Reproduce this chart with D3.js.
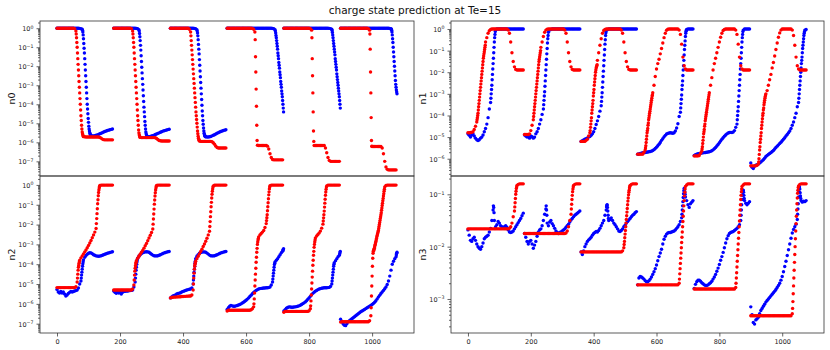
<!DOCTYPE html>
<html>
<head>
<meta charset="utf-8">
<script src="https://cdn.jsdelivr.net/npm/d3@7"></script>
<style>
  body { margin: 0; background: #fff; }
  text { font-family: "DejaVu Sans", sans-serif; }
</style>
</head>
<body>
<div id="chart"></div>
<script>
// each series: 6 segments of 180 samples, read every 4th sample (log10 of value).
// a nested array holds 4 consecutive samples where the curve moves fast.
var xTicks = [0, 200, 400, 600, 800, 1000];

var n0Red = [
 [0,0,0,0,0,0,0,0,0,0,
  0,0,0,0,-0.02,[-0.15,-0.3,-0.5,-0.75],[-1.0,-1.3,-1.6,-1.9],[-2.2,-2.5,-2.8,-3.1],[-3.4,-3.7,-4.0,-4.3],[-4.6,-4.85,-5.1,-5.3],
  [-5.45,-5.55,-5.62,-5.67],-5.7,-5.71,-5.72,-5.72,-5.72,-5.72,-5.72,-5.72,-5.72,
  -5.72,-5.72,-5.72,-5.72,-5.74,-5.78,-5.83,-5.86,-5.87,-5.87,
  -5.87,-5.87,-5.87,-5.87,-5.87],
 [0,0,0,0,0,0,0,0,0,0,
  0,0,0,0,-0.02,[-0.15,-0.3,-0.5,-0.75],[-1.0,-1.3,-1.6,-1.9],[-2.2,-2.5,-2.8,-3.1],[-3.4,-3.7,-4.0,-4.3],[-4.6,-4.85,-5.1,-5.35],
  [-5.5,-5.6,-5.67,-5.72],-5.74,-5.75,-5.75,-5.75,-5.75,-5.75,-5.75,-5.75,-5.75,
  -5.75,-5.75,-5.75,-5.76,-5.8,-5.85,-5.9,-5.92,-5.93,-5.93,
  -5.93,-5.93,-5.93,-5.93,-5.93],
 [0,0,0,0,0,0,0,0,0,0,
  0,0,0,0,0,-0.05,[-0.2,-0.4,-0.65,-0.9],[-1.15,-1.4,-1.65,-1.9],[-2.15,-2.4,-2.65,-2.9],[-3.15,-3.4,-3.65,-3.9],
  [-4.15,-4.4,-4.6,-4.8],[-5.0,-5.2,-5.4,-5.55],[-5.68,-5.78,-5.85,-5.9],-5.93,-5.95,-5.95,-5.95,-5.95,-5.95,-5.95,
  -5.95,-5.95,-5.95,-5.97,-6.02,-6.1,-6.2,-6.27,-6.3,-6.3,
  -6.3,-6.3,-6.3,-6.3,-6.3],
 [0,0,0,0,0,0,0,0,0,0,
  0,0,0,0,0,0,0,0,0,0,
  -0.01,-0.05,[-0.2,-0.6,-1.5,-2.3],[-3.2,-4.1,-5.1,-5.9],-6.15,-6.17,-6.17,-6.17,-6.17,-6.17,
  -6.17,-6.17,-6.2,-6.35,-6.6,-6.8,-6.9,-6.92,-6.92,-6.92,
  -6.92,-6.92,-6.92,-6.92,-6.92],
 [0,0,0,0,0,0,0,0,0,0,
  0,0,0,0,0,0,0,0,0,0,
  0,-0.02,[-0.1,-0.5,-1.6,-2.5],[-3.4,-4.4,-5.4,-5.95],-6.17,-6.17,-6.17,-6.17,-6.17,-6.17,
  -6.17,-6.17,-6.17,-6.3,-6.55,-6.8,-6.95,-7.0,-7.0,-7.0,
  -7.0,-7.0,-7.0,-7.0,-7.0],
 [0,0,0,0,0,0,0,0,0,0,
  0,0,0,0,0,0,0,0,0,0,
  0,0,-0.02,[-0.1,-0.3,-1.1,-2.3],[-3.4,-4.7,-5.9,-6.2],-6.22,-6.22,-6.22,-6.22,-6.22,
  -6.22,-6.22,-6.22,-6.3,-6.6,-7.0,-7.3,-7.42,-7.45,-7.45,
  -7.45,-7.45,-7.45,-7.45,-7.45]
];

var n0Blue = [
 [0,0,0,0,0,0,0,0,0,0,
  0,0,0,0,0,0,0,0,-0.01,-0.02,
  [-0.05,-0.1,-0.2,-0.35],[-0.55,-0.8,-1.05,-1.3],[-1.6,-1.9,-2.2,-2.5],[-2.8,-3.1,-3.4,-3.7],[-4.0,-4.25,-4.5,-4.75],[-4.95,-5.15,-5.3,-5.4],[-5.5,-5.55,-5.6,-5.63],-5.65,-5.66,-5.66,
  -5.65,-5.63,-5.61,-5.58,-5.55,-5.52,-5.49,-5.46,-5.43,-5.4,
  -5.38,-5.36,-5.34,-5.32,-5.3],
 [0,0,0,0,0,0,0,0,0,0,
  0,0,0,0,0,0,0,0,-0.01,-0.03,
  [-0.08,-0.15,-0.28,-0.45],[-0.65,-0.9,-1.15,-1.45],[-1.75,-2.05,-2.35,-2.65],[-2.95,-3.25,-3.55,-3.85],[-4.15,-4.4,-4.65,-4.9],[-5.1,-5.3,-5.45,-5.55],[-5.62,-5.66,-5.68,-5.7],-5.7,-5.7,-5.69,
  -5.67,-5.65,-5.62,-5.59,-5.56,-5.53,-5.5,-5.47,-5.44,-5.41,
  -5.39,-5.37,-5.35,-5.33,-5.31],
 [0,0,0,0,0,0,0,0,0,0,
  0,0,0,0,0,0,0,0,0,-0.01,
  -0.03,[-0.08,-0.15,-0.25,-0.4],[-0.6,-0.85,-1.1,-1.35],[-1.65,-1.95,-2.25,-2.55],[-2.85,-3.15,-3.45,-3.75],[-4.05,-4.35,-4.6,-4.85],[-5.05,-5.25,-5.4,-5.52],[-5.6,-5.65,-5.68,-5.7],-5.71,-5.72,
  -5.72,-5.71,-5.69,-5.66,-5.63,-5.6,-5.56,-5.52,-5.49,-5.46,
  -5.43,-5.4,-5.38,-5.36,-5.34],
 [0,0,0,0,0,0,0,0,0,0,
  0,0,0,0,0,0,0,0,0,0,
  0,0,0,0,0,0,0,0,0,0,
  0,0,0,0,0,0,-0.01,-0.03,[-0.08,-0.15,-0.25,-0.38],[-0.5,-0.65,-0.8,-0.95],
  [-1.1,-1.3,-1.45,-1.6],[-1.8,-1.95,-2.1,-2.3],[-2.45,-2.6,-2.8,-2.95],[-3.1,-3.3,-3.45,-3.6],[-3.8,-4.0,-4.2,-4.4]],
 [0,0,0,0,0,0,0,0,0,0,
  0,0,0,0,0,0,0,0,0,0,
  0,0,0,0,0,0,0,0,0,0,
  0,0,0,0,0,0,-0.01,-0.02,[-0.05,-0.12,-0.22,-0.35],[-0.5,-0.65,-0.8,-0.95],
  [-1.1,-1.25,-1.4,-1.6],[-1.75,-1.9,-2.05,-2.2],[-2.4,-2.55,-2.7,-2.85],[-3.0,-3.15,-3.3,-3.45],[-3.6,-3.8,-4.0,-4.2]],
 [0,0,0,0,0,0,0,0,0,0,
  0,0,0,0,0,0,0,0,0,0,
  0,0,0,0,0,0,0,0,0,0,
  0,0,0,0,0,0,0,0,0,-0.01,
  [-0.02,-0.05,-0.1,-0.2],[-0.35,-0.55,-0.75,-1.0],[-1.25,-1.5,-1.75,-2.0],[-2.25,-2.5,-2.75,-2.95],[-3.1,-3.25,-3.35,-3.45]]
];

var n1Red = [
 [-4.8,-4.8,-4.79,-4.78,-4.75,-4.65,-4.5,[-4.3,-4.2,-4.1,-4.0],[-3.9,-3.75,-3.6,-3.45],[-3.3,-3.15,-3.0,-2.85],
  [-2.7,-2.55,-2.4,-2.25],[-2.1,-1.95,-1.8,-1.65],[-1.5,-1.35,-1.25,-1.15],[-1.05,-0.95,-0.85,-0.75],-0.6,-0.4,-0.2,-0.08,-0.02,0,
  0,0,0,0,0,0,0,0,0,0,
  0,0,-0.05,-0.2,-0.6,-1.1,-1.5,-1.75,-1.87,-1.9,
  -1.9,-1.9,-1.9,-1.9,-1.9],
 [-4.88,-4.88,-4.88,-4.88,-4.85,-4.7,-4.45,[-4.2,-4.05,-3.9,-3.75],[-3.6,-3.45,-3.3,-3.15],[-3.0,-2.85,-2.7,-2.55],
  [-2.4,-2.25,-2.1,-1.95],[-1.8,-1.65,-1.5,-1.4],[-1.3,-1.2,-1.1,-1.0],-0.85,-0.6,-0.35,-0.15,-0.05,-0.01,0,
  0,0,0,0,0,0,0,0,0,0,
  0,0,-0.05,-0.2,-0.6,-1.1,-1.5,-1.75,-1.87,-1.9,
  -1.9,-1.9,-1.9,-1.9,-1.9],
 [-5.2,-5.2,-5.2,-5.2,-5.15,-5.1,-4.95,[-4.8,-4.7,-4.55,-4.4],[-4.25,-4.1,-3.9,-3.75],[-3.6,-3.45,-3.3,-3.1],
  [-2.95,-2.8,-2.6,-2.45],[-2.3,-2.15,-2.0,-1.9],[-1.8,-1.75,-1.7,-1.65],-1.45,-1.1,-0.75,-0.45,-0.2,-0.07,-0.02,
  0,0,0,0,0,0,0,0,0,0,
  0,0,-0.05,-0.2,-0.6,-1.1,-1.5,-1.75,-1.87,-1.9,
  -1.9,-1.9,-1.9,-1.9,-1.9],
 [-5.79,-5.79,-5.79,-5.79,-5.79,-5.7,[-5.6,-5.5,-5.4,-5.25],[-5.1,-4.95,-4.8,-4.7],[-4.6,-4.45,-4.35,-4.2],[-4.1,-4.0,-3.9,-3.8],
  [-3.7,-3.6,-3.5,-3.4],[-3.3,-3.2,-3.1,-3.05],-2.95,-2.6,-2.2,-1.85,-1.6,-1.4,-1.15,-0.9,
  -0.65,-0.4,-0.2,-0.06,-0.01,0,0,0,0,0,
  0,0,0,-0.05,-0.25,-0.7,-1.3,-1.7,-1.85,-1.9,
  -1.9,-1.9,-1.9,-1.9,-1.9],
 [-5.87,-5.87,-5.87,-5.87,-5.85,-5.75,[-5.65,-5.55,-5.45,-5.3],[-5.15,-5.0,-4.85,-4.75],[-4.65,-4.5,-4.4,-4.25],[-4.15,-4.05,-3.95,-3.85],
  [-3.75,-3.65,-3.55,-3.45],[-3.35,-3.25,-3.15,-3.05],-2.95,-2.6,-2.25,-1.9,-1.6,-1.35,-1.1,-0.85,
  -0.6,-0.38,-0.2,-0.07,-0.02,0,0,0,0,0,
  0,0,0,-0.05,-0.25,-0.7,-1.3,-1.7,-1.85,-1.9,
  -1.9,-1.9,-1.9,-1.9,-1.9],
 [-6.33,-6.33,-6.33,-6.33,-6.33,-6.3,[-6.25,-6.15,-6.0,-5.8],[-5.6,-5.45,-5.25,-5.1],[-4.95,-4.8,-4.6,-4.45],[-4.3,-4.15,-4.0,-3.9],
  [-3.75,-3.65,-3.5,-3.4],[-3.3,-3.2,-3.12,-3.05],-3.0,-2.85,-2.6,-2.35,-2.1,-1.8,-1.55,-1.25,
  -0.95,-0.65,-0.38,-0.18,-0.05,0,0,0,0,0,
  0,0,0,-0.05,-0.3,-0.75,-1.3,-1.7,-1.85,-1.9,
  -1.9,-1.9,-1.9,-1.9,-1.9]
];

var n1Blue = [
 [-4.85,-4.92,-5.0,-4.9,-4.85,-4.95,-5.05,-5.12,-5.16,-5.12,
  -5.05,-5.0,-4.9,-4.75,-4.6,-4.4,-4.1,-3.7,[-3.4,-3.2,-3.0,-2.8],[-2.6,-2.35,-2.1,-1.85],
  [-1.6,-1.35,-1.1,-0.85],[-0.6,-0.4,-0.25,-0.12],-0.05,0,0,0,0,0,0,0,
  0,0,0,0,0,0,0,0,0,0,
  0,0,0,0,0],
 [-4.9,-4.95,-5.0,-4.97,-5.05,-4.95,-4.98,-5.05,-5.0,-4.85,
  -4.75,-4.6,-4.4,-4.2,-3.95,[-3.7,-3.5,-3.3,-3.1],[-2.9,-2.65,-2.4,-2.15],[-1.9,-1.65,-1.4,-1.15],[-0.9,-0.65,-0.45,-0.3],-0.15,
  -0.05,-0.02,0,0,0,0,0,0,0,0,
  0,0,0,0,0,0,0,0,0,0,
  0,0,0,0,0],
 [-5.2,-5.17,-5.13,-5.1,-5.07,-5.04,-5.0,-4.97,-4.92,-4.85,
  -4.75,-4.6,-4.42,-4.25,-4.05,-3.8,[-3.55,-3.35,-3.15,-2.95],[-2.7,-2.45,-2.2,-1.95],[-1.7,-1.45,-1.2,-0.95],[-0.7,-0.5,-0.3,-0.17],
  -0.08,-0.03,0,0,0,0,0,0,0,0,
  0,0,0,0,0,0,0,0,0,0,
  0,0,0,0,0],
 [-5.79,-5.78,-5.76,-5.74,-5.72,-5.72,-5.71,-5.7,-5.69,-5.68,
  -5.67,-5.65,-5.62,-5.58,-5.53,-5.47,-5.4,-5.33,-5.25,-5.15,
  -5.07,-4.99,-4.92,-4.86,-4.83,-4.81,-4.8,-4.81,-4.82,-4.8,
  -4.72,-4.58,-4.38,-4.05,[-3.85,-3.65,-3.45,-3.25],[-3.05,-2.8,-2.6,-2.4],[-2.15,-1.9,-1.7,-1.45],[-1.2,-0.95,-0.75,-0.55],[-0.35,-0.2,-0.1,-0.05],-0.02,
  0,0,0,0,0],
 [-5.85,-5.82,-5.79,-5.77,-5.76,-5.75,-5.74,-5.73,-5.72,-5.71,
  -5.7,-5.69,-5.68,-5.66,-5.63,-5.59,-5.54,-5.48,-5.41,-5.34,
  -5.26,-5.18,-5.1,-5.03,-4.96,-4.9,-4.85,-4.81,-4.79,-4.78,
  -4.79,-4.77,-4.7,-4.55,[-4.4,-4.2,-4.0,-3.8],[-3.6,-3.35,-3.1,-2.85],[-2.6,-2.35,-2.1,-1.85],[-1.6,-1.35,-1.1,-0.85],[-0.6,-0.4,-0.25,-0.12],-0.05,
  0,0,0,0,0],
 [-6.2,-6.4,-6.45,-6.35,-6.3,-6.28,-6.25,-6.2,-6.15,-6.1,
  -6.05,-5.98,-5.9,-5.85,-5.8,-5.76,-5.72,-5.67,-5.62,-5.55,
  -5.48,-5.42,-5.36,-5.3,-5.24,-5.17,-5.1,-5.03,-4.95,-4.88,
  -4.8,-4.72,-4.6,-4.45,-4.3,-4.1,-3.9,-3.6,[-3.4,-3.2,-3.0,-2.8],[-2.6,-2.4,-2.2,-2.0],
  [-1.8,-1.6,-1.45,-1.3],[-1.1,-0.9,-0.75,-0.6],[-0.45,-0.3,-0.2,-0.12],-0.05,-0.02]
];

var n2Red = [
 [-5.18,-5.18,-5.18,-5.18,-5.18,-5.18,-5.18,-5.18,-5.18,-5.18,
  -5.18,-5.18,-5.18,-5.18,-5.18,-5.14,[-4.9,-4.7,-4.5,-4.3],[-4.15,-4.05,-3.95,-3.88],-3.8,-3.68,
  -3.58,-3.48,-3.38,-3.28,-3.17,-3.05,-2.93,-2.8,-2.66,-2.52,
  -2.38,[-2.2,-1.95,-1.7,-1.45],[-1.2,-0.95,-0.75,-0.55],[-0.38,-0.25,-0.15,-0.08],-0.03,-0.01,-0.01,-0.01,-0.01,-0.01,
  -0.01,-0.01,-0.01,-0.01,-0.01],
 [-5.3,-5.3,-5.3,-5.3,-5.3,-5.3,-5.3,-5.3,-5.3,-5.3,
  -5.3,-5.3,-5.3,-5.3,-5.3,-5.25,[-5.05,-4.8,-4.55,-4.35],[-4.2,-4.08,-3.98,-3.9],-3.82,-3.7,
  -3.6,-3.5,-3.4,-3.3,-3.19,-3.07,-2.95,-2.82,-2.68,-2.54,
  -2.4,[-2.22,-1.98,-1.72,-1.47],[-1.22,-0.97,-0.76,-0.56],[-0.39,-0.26,-0.16,-0.08],-0.03,-0.01,-0.01,-0.01,-0.01,-0.01,
  -0.01,-0.01,-0.01,-0.01,-0.01],
 [-5.7,-5.68,-5.67,-5.66,-5.66,-5.65,-5.65,-5.64,-5.64,-5.63,
  -5.63,-5.62,-5.62,-5.61,-5.61,-5.6,-5.6,-5.55,[-5.3,-5.0,-4.7,-4.45],[-4.25,-4.1,-4.0,-3.92],
  -3.85,-3.72,-3.6,-3.48,-3.36,-3.24,-3.11,-2.98,-2.84,-2.69,
  -2.52,[-2.34,-2.1,-1.85,-1.6],[-1.35,-1.1,-0.88,-0.66],[-0.47,-0.32,-0.2,-0.11],-0.05,-0.02,-0.01,-0.01,-0.01,-0.01,
  -0.01,-0.01,-0.01,-0.01,-0.01],
 [-6.36,-6.32,-6.32,-6.32,-6.32,-6.32,-6.32,-6.32,-6.32,-6.32,
  -6.32,-6.32,-6.32,-6.32,-6.32,-6.32,-6.32,-6.32,-6.32,-6.3,
  -6.25,[-6.15,-6.0,-5.75,-5.45],[-5.1,-4.8,-4.5,-4.2],[-3.9,-3.65,-3.4,-3.2],[-3.0,-2.88,-2.78,-2.7],-2.62,-2.52,-2.45,-2.38,-2.3,
  -2.15,[-1.95,-1.8,-1.65,-1.5],[-1.3,-1.1,-0.9,-0.7],[-0.5,-0.35,-0.2,-0.1],-0.04,-0.01,-0.01,-0.01,-0.01,-0.01,
  -0.01,-0.01,-0.01,-0.01,-0.01],
 [-6.42,-6.38,-6.38,-6.38,-6.38,-6.38,-6.38,-6.38,-6.38,-6.38,
  -6.38,-6.38,-6.38,-6.38,-6.38,-6.38,-6.38,-6.38,-6.38,-6.38,
  -6.35,[-6.25,-6.1,-5.85,-5.55],[-5.25,-4.95,-4.65,-4.35],[-4.05,-3.8,-3.55,-3.35],[-3.15,-3.0,-2.88,-2.78],-2.68,-2.58,-2.5,-2.42,-2.33,
  -2.18,[-1.98,-1.82,-1.66,-1.5],[-1.32,-1.12,-0.92,-0.72],[-0.52,-0.36,-0.22,-0.11],-0.05,-0.01,-0.01,-0.01,-0.01,-0.01,
  -0.01,-0.01,-0.01,-0.01,-0.01],
 [-6.92,-6.9,-6.9,-6.9,-6.9,-6.9,-6.9,-6.9,-6.9,-6.9,
  -6.9,-6.9,-6.9,-6.9,-6.9,-6.9,-6.9,-6.9,-6.9,-6.9,
  -6.9,-6.9,-6.9,-6.85,[-6.6,-6.2,-5.6,-5.1],[-4.6,-4.1,-3.7,-3.45],[-3.35,-3.3,-3.25,-3.2],[-3.13,-3.06,-2.99,-2.92],[-2.85,-2.78,-2.7,-2.62],[-2.55,-2.48,-2.42,-2.36],
  [-2.3,-2.2,-2.1,-2.0],[-1.9,-1.8,-1.7,-1.6],[-1.5,-1.4,-1.28,-1.16],[-1.04,-0.92,-0.8,-0.68],[-0.56,-0.44,-0.32,-0.22],-0.1,-0.03,-0.01,-0.01,-0.01,
  -0.01,-0.01,-0.01,-0.01,-0.01]
];

var n2Blue = [
 [-5.27,-5.4,-5.45,-5.38,-5.45,-5.4,-5.5,-5.6,-5.55,-5.48,
  -5.42,-5.38,-5.4,-5.38,-5.35,-5.33,-5.3,-5.2,-5.0,[-4.85,-4.7,-4.55,-4.4],
  [-4.25,-4.1,-3.98,-3.88],-3.78,-3.65,-3.56,-3.5,-3.45,-3.42,-3.43,-3.47,-3.52,
  -3.55,-3.58,-3.59,-3.6,-3.59,-3.57,-3.55,-3.52,-3.5,-3.47,
  -3.45,-3.43,-3.41,-3.39,-3.37],
 [-5.35,-5.42,-5.47,-5.4,-5.45,-5.42,-5.5,-5.42,-5.38,-5.37,
  -5.36,-5.35,-5.34,-5.33,-5.32,-5.3,-5.15,[-4.9,-4.7,-4.5,-4.3],[-4.15,-4.0,-3.88,-3.78],-3.7,
  -3.6,-3.52,-3.46,-3.42,-3.4,-3.38,-3.37,-3.38,-3.4,-3.45,
  -3.5,-3.54,-3.57,-3.58,-3.58,-3.57,-3.55,-3.52,-3.49,-3.46,
  -3.43,-3.41,-3.39,-3.37,-3.36],
 [-5.7,-5.65,-5.6,-5.58,-5.55,-5.5,-5.48,-5.46,-5.44,-5.4,
  -5.37,-5.35,-5.32,-5.3,-5.28,-5.26,-5.25,-5.2,[-5.0,-4.8,-4.6,-4.4],[-4.25,-4.1,-3.95,-3.85],
  -3.72,-3.6,-3.52,-3.45,-3.41,-3.39,-3.38,-3.38,-3.4,-3.44,
  -3.49,-3.54,-3.57,-3.58,-3.58,-3.57,-3.55,-3.52,-3.49,-3.46,
  -3.43,-3.41,-3.39,-3.37,-3.36],
 [-6.28,-6.2,-6.12,-6.08,-6.1,-6.12,-6.12,-6.1,-6.08,-6.06,
  -6.03,-6.0,-5.96,-5.92,-5.87,-5.82,-5.76,-5.7,-5.63,-5.56,
  -5.49,-5.43,-5.37,-5.32,-5.28,-5.25,-5.23,-5.22,-5.21,-5.2,
  -5.2,-5.19,-5.19,-5.18,-5.15,-5.05,[-4.9,-4.75,-4.6,-4.45],[-4.3,-4.15,-4.02,-3.95],-3.88,-3.8,
  -3.72,-3.62,-3.52,-3.42,[-3.35,-3.3,-3.25,-3.22]],
 [-6.36,-6.3,-6.22,-6.18,-6.15,-6.16,-6.17,-6.17,-6.16,-6.15,
  -6.14,-6.12,-6.1,-6.07,-6.03,-5.99,-5.95,-5.9,-5.84,-5.77,
  -5.7,-5.62,-5.54,-5.47,-5.41,-5.36,-5.32,-5.28,-5.25,-5.23,
  -5.21,-5.2,-5.19,-5.19,-5.19,-5.18,-5.17,-5.12,[-5.0,-4.85,-4.7,-4.55],[-4.4,-4.25,-4.1,-4.0],
  -3.92,-3.82,-3.72,-3.62,[-3.55,-3.48,-3.42,-3.35]],
 [-6.78,-6.9,-7.0,-7.08,-7.1,-7.0,-6.9,-6.85,-6.8,-6.75,
  -6.7,-6.65,-6.6,-6.55,-6.5,-6.45,-6.4,-6.36,-6.32,-6.28,
  -6.24,-6.2,-6.16,-6.12,-6.08,-6.03,-5.98,-5.92,-5.84,-5.75,
  -5.66,-5.57,-5.48,-5.4,-5.32,-5.24,-5.15,-5.02,-4.85,-4.6,
  -4.3,-4.0,-3.85,-3.72,[-3.62,-3.52,-3.45,-3.4]]
];

var n3Red = [
 [-1.66,-1.66,-1.66,-1.66,-1.66,-1.66,-1.66,-1.66,-1.66,-1.66,
  -1.66,-1.66,-1.66,-1.66,-1.66,-1.66,-1.66,-1.66,-1.66,-1.66,
  -1.66,-1.66,-1.66,-1.66,-1.66,-1.66,-1.66,-1.66,-1.66,-1.66,
  -1.66,-1.66,-1.66,-1.65,-1.62,-1.55,-1.43,[-1.32,-1.24,-1.16,-1.08],[-1.0,-0.94,-0.89,-0.86],-0.83,
  -0.81,-0.8,-0.8,-0.8,-0.8],
 [-1.75,-1.75,-1.75,-1.75,-1.75,-1.75,-1.75,-1.75,-1.75,-1.75,
  -1.75,-1.75,-1.75,-1.75,-1.75,-1.75,-1.75,-1.75,-1.75,-1.75,
  -1.75,-1.75,-1.75,-1.75,-1.75,-1.75,-1.75,-1.75,-1.75,-1.75,
  -1.75,-1.75,-1.75,-1.74,-1.7,-1.62,-1.5,[-1.38,-1.28,-1.19,-1.1],[-1.02,-0.95,-0.9,-0.86],-0.83,
  -0.81,-0.8,-0.8,-0.8,-0.8],
 [-2.1,-2.1,-2.1,-2.1,-2.1,-2.1,-2.1,-2.1,-2.1,-2.1,
  -2.1,-2.1,-2.1,-2.1,-2.1,-2.1,-2.1,-2.1,-2.1,-2.1,
  -2.1,-2.1,-2.1,-2.1,-2.1,-2.1,-2.1,-2.1,-2.1,-2.1,
  -2.1,-2.1,-2.1,-2.08,[-2.02,-1.96,-1.9,-1.83],[-1.76,-1.69,-1.62,-1.55],[-1.48,-1.41,-1.34,-1.27],[-1.2,-1.13,-1.07,-1.01],[-0.96,-0.92,-0.88,-0.85],-0.83,
  -0.81,-0.8,-0.8,-0.8,-0.8],
 [-2.73,-2.73,-2.73,-2.73,-2.73,-2.73,-2.73,-2.73,-2.73,-2.73,
  -2.73,-2.73,-2.73,-2.73,-2.73,-2.73,-2.73,-2.73,-2.73,-2.73,
  -2.73,-2.73,-2.73,-2.73,-2.73,-2.73,-2.73,-2.73,-2.73,-2.73,
  -2.73,-2.73,-2.73,[-2.7,-2.62,-2.52,-2.42],[-2.32,-2.22,-2.12,-2.02],[-1.92,-1.82,-1.72,-1.62],[-1.52,-1.42,-1.32,-1.22],[-1.12,-1.03,-0.96,-0.9],-0.85,-0.82,
  -0.8,-0.8,-0.8,-0.8,-0.8],
 [-2.81,-2.81,-2.81,-2.81,-2.81,-2.81,-2.81,-2.81,-2.81,-2.81,
  -2.81,-2.81,-2.81,-2.81,-2.81,-2.81,-2.81,-2.81,-2.81,-2.81,
  -2.81,-2.81,-2.81,-2.81,-2.81,-2.81,-2.81,-2.81,-2.81,-2.81,
  -2.81,-2.81,-2.81,[-2.78,-2.7,-2.6,-2.5],[-2.39,-2.28,-2.17,-2.06],[-1.95,-1.84,-1.73,-1.62],[-1.51,-1.4,-1.3,-1.2],[-1.1,-1.02,-0.95,-0.9],-0.85,-0.82,
  -0.8,-0.8,-0.8,-0.8,-0.8],
 [-3.32,-3.32,-3.32,-3.32,-3.32,-3.32,-3.32,-3.32,-3.32,-3.32,
  -3.32,-3.32,-3.32,-3.32,-3.32,-3.32,-3.32,-3.32,-3.32,-3.32,
  -3.32,-3.32,-3.32,-3.32,-3.32,-3.32,-3.32,-3.32,-3.32,-3.32,
  -3.32,-3.32,-3.32,[-3.28,-3.18,-3.05,-2.9],[-2.75,-2.6,-2.45,-2.3],[-2.15,-2.0,-1.85,-1.7],[-1.56,-1.42,-1.3,-1.18],[-1.07,-0.98,-0.92,-0.87],-0.84,-0.81,
  -0.8,-0.8,-0.8,-0.8,-0.8]
];

var n3Blue = [
 [-1.68,-1.78,-1.88,-1.9,-1.85,-1.82,-1.88,-1.95,-2.0,-2.03,
  -2.05,-2.0,-1.93,-1.85,-1.82,-1.8,-1.78,-1.72,-1.65,-1.5,
  [-1.3,-1.22,-1.25,-1.35],-1.5,-1.62,-1.58,-1.52,-1.55,-1.6,-1.62,-1.64,-1.62,
  -1.6,-1.63,-1.68,-1.72,-1.73,-1.72,-1.7,-1.66,-1.62,-1.58,
  -1.54,-1.5,-1.46,-1.41,-1.36],
 [-1.75,-1.82,-1.9,-1.95,-1.9,-1.88,-1.95,-2.03,-1.97,-1.9,
  -1.8,-1.72,-1.68,-1.66,-1.6,-1.5,-1.38,[-1.28,-1.22,-1.3,-1.4],-1.55,-1.6,
  -1.53,-1.5,-1.56,-1.6,-1.65,-1.7,-1.73,-1.75,-1.73,-1.72,
  -1.7,-1.68,-1.66,-1.63,-1.6,-1.57,-1.53,-1.49,-1.46,-1.43,
  -1.4,-1.38,-1.36,-1.34,-1.32],
 [-2.1,-2.15,-2.08,-2.0,-1.95,-1.9,-1.87,-1.85,-1.82,-1.78,
  -1.75,-1.73,-1.71,-1.72,-1.69,-1.65,-1.6,-1.55,-1.5,-1.4,
  [-1.3,-1.24,-1.21,-1.2],[-1.25,-1.32,-1.4,-1.46],-1.5,-1.48,-1.45,-1.5,-1.55,-1.58,-1.62,-1.66,
  -1.7,-1.71,-1.69,-1.66,-1.62,-1.59,-1.55,-1.52,-1.49,-1.46,
  -1.43,-1.4,-1.38,-1.35,-1.33],
 [-2.73,-2.6,-2.57,-2.58,-2.6,-2.62,-2.65,-2.67,-2.67,-2.65,
  -2.62,-2.58,-2.53,-2.48,-2.42,-2.35,-2.27,-2.19,-2.12,-2.05,
  -1.95,-1.86,-1.8,-1.76,-1.74,-1.73,-1.73,-1.72,-1.71,-1.7,
  -1.68,-1.65,-1.62,-1.58,-1.52,[-1.45,-1.38,-1.3,-1.22],[-1.14,-1.06,-0.99,-0.93],[-0.89,-0.9,-0.95,-1.0],-1.05,-1.12,
  -1.2,-1.25,-1.18,-1.15,-1.12],
 [-2.8,-2.72,-2.67,-2.64,-2.64,-2.66,-2.69,-2.71,-2.73,-2.74,
  -2.74,-2.73,-2.71,-2.69,-2.66,-2.62,-2.58,-2.53,-2.47,-2.41,
  -2.34,-2.26,-2.19,-2.11,-2.02,-1.93,-1.85,-1.79,-1.75,-1.73,
  -1.72,-1.71,-1.69,-1.67,-1.65,-1.62,-1.58,[-1.5,-1.4,-1.3,-1.2],[-1.1,-1.02,-0.96,-0.92],[-0.92,-0.96,-1.02,-1.08],
  -1.12,-1.17,-1.2,-1.17,-1.14],
 [-3.15,-3.3,-3.45,-3.48,-3.4,-3.38,-3.35,-3.28,-3.22,-3.18,
  -3.14,-3.1,-3.06,-3.03,-3.0,-2.97,-2.94,-2.91,-2.88,-2.85,
  -2.82,-2.78,-2.74,-2.7,-2.64,-2.57,-2.48,-2.38,-2.28,-2.17,
  -2.06,-1.95,-1.84,-1.74,-1.67,-1.62,-1.57,[-1.48,-1.38,-1.28,-1.18],[-1.05,-0.95,-0.88,-0.86],[-0.9,-0.97,-1.03,-1.08],
  -1.12,-1.15,-1.13,-1.14,-1.12]
];

var SEG_LEN = 180, STEP = 4;

// turn one segment into [x, log10 value] points
function expand(seg, k) {
  var pts = [];
  seg.forEach(function(v, i) {
    var x0 = k * SEG_LEN + i * STEP;
    if (Array.isArray(v)) v.forEach(function(w, j) { pts.push([x0 + j, w]); });
    else pts.push([x0, v]);
  });
  return pts;
}

var width = 830, height = 350;
var svg = d3.select("#chart").append("svg")
    .attr("width", width)
    .attr("height", height);

var cols = [[40, 414], [451, 824]];
var rows = [[21, 176], [176, 333]];

var panels = [
  {label: "n0", red: n0Red, blue: n0Blue, col: 0, row: 0, lo: -7.77, hi: 0.38},
  {label: "n1", red: n1Red, blue: n1Blue, col: 1, row: 0, lo: -6.8, hi: 0.37},
  {label: "n2", red: n2Red, blue: n2Blue, col: 0, row: 1, lo: -7.47, hi: 0.45},
  {label: "n3", red: n3Red, blue: n3Blue, col: 1, row: 1, lo: -3.65, hi: -0.65}
];

panels.forEach(function(p) {
  var xl = cols[p.col][0], xr = cols[p.col][1], yt = rows[p.row][0], yb = rows[p.row][1];
  var x = d3.scaleLinear().domain([-53.95, 1132.95]).range([xl, xr]);
  var y = d3.scaleLog().domain([Math.pow(10, p.lo), Math.pow(10, p.hi)]).range([yb, yt]);
  var g = svg.append("g");

  // points: per segment, prediction (blue) then truth (red)
  for (var k = 0; k < 6; k++) {
    [[p.blue[k], "blue"], [p.red[k], "red"]].forEach(function(s) {
      g.append("g").selectAll("circle")
        .data(expand(s[0], k))
        .enter().append("circle")
        .attr("cx", function(d) { return x(d[0]); })
        .attr("cy", function(d) { return y(Math.pow(10, d[1])); })
        .attr("r", 1.7)
        .attr("fill", s[1]);
    });
  }

  // y ticks
  var majors = d3.range(Math.ceil(p.lo), Math.floor(p.hi) + 1);
  var minors = [];
  d3.range(Math.floor(p.lo), Math.ceil(p.hi)).forEach(function(e) {
    for (var m = 2; m < 10; m++) {
      var v = e + Math.log10(m);
      if (v > p.lo && v < p.hi) minors.push(Math.pow(10, v));
    }
  });
  var ax = g.append("g").attr("transform", "translate(" + xl + ",0)");
  ax.append("g").call(d3.axisLeft(y).tickValues(minors).tickSize(2).tickFormat(""));
  ax.append("g").call(d3.axisLeft(y).tickValues(majors.map(function(e) { return Math.pow(10, e); })).tickSize(3.5).tickFormat(""));
  ax.selectAll(".domain").remove();
  ax.selectAll(".tick line").attr("stroke", "#222").attr("stroke-width", 0.7);

  var lab = ax.append("g").selectAll("text")
    .data(majors)
    .enter().append("text")
    .attr("x", -6.5)
    .attr("y", function(e) { return y(Math.pow(10, e)); })
    .attr("dy", "0.45em")
    .attr("text-anchor", "end")
    .attr("fill", "#222")
    .style("font-size", "6.5px");
  lab.append("tspan").text("10");
  lab.append("tspan")
    .attr("dy", "-0.55em")
    .style("font-size", "4.7px")
    .text(function(e) { return e === 0 ? "0" : "\u2212" + (-e); });

  // x axis on the bottom row
  if (p.row === 1) {
    var xa = g.append("g").attr("transform", "translate(0," + yb + ")")
      .call(d3.axisBottom(x).tickValues(xTicks).tickSize(3.5).tickPadding(2.5).tickFormat(d3.format("d")));
    xa.select(".domain").remove();
    xa.attr("font-family", "DejaVu Sans, sans-serif").attr("font-size", 6.5);
    xa.selectAll(".tick line").attr("stroke", "#222").attr("stroke-width", 0.7);
    xa.selectAll(".tick text").attr("fill", "#222");
  }

  // frame
  g.append("rect")
    .attr("x", xl).attr("y", yt)
    .attr("width", xr - xl).attr("height", yb - yt)
    .attr("fill", "none")
    .attr("stroke", "#333")
    .attr("stroke-width", 0.8);

  svg.append("text")
    .attr("transform", "translate(" + (xl - 25) + "," + ((yt + yb) / 2) + ") rotate(-90)")
    .attr("text-anchor", "middle")
    .attr("fill", "#111")
    .style("font-size", "9.5px")
    .text(p.label);
});

svg.append("text")
  .attr("x", width / 2)
  .attr("y", 13.5)
  .attr("text-anchor", "middle")
  .attr("fill", "#111")
  .style("font-size", "10.5px")
  .text("charge state prediction at Te=15");
</script>
</body>
</html>
